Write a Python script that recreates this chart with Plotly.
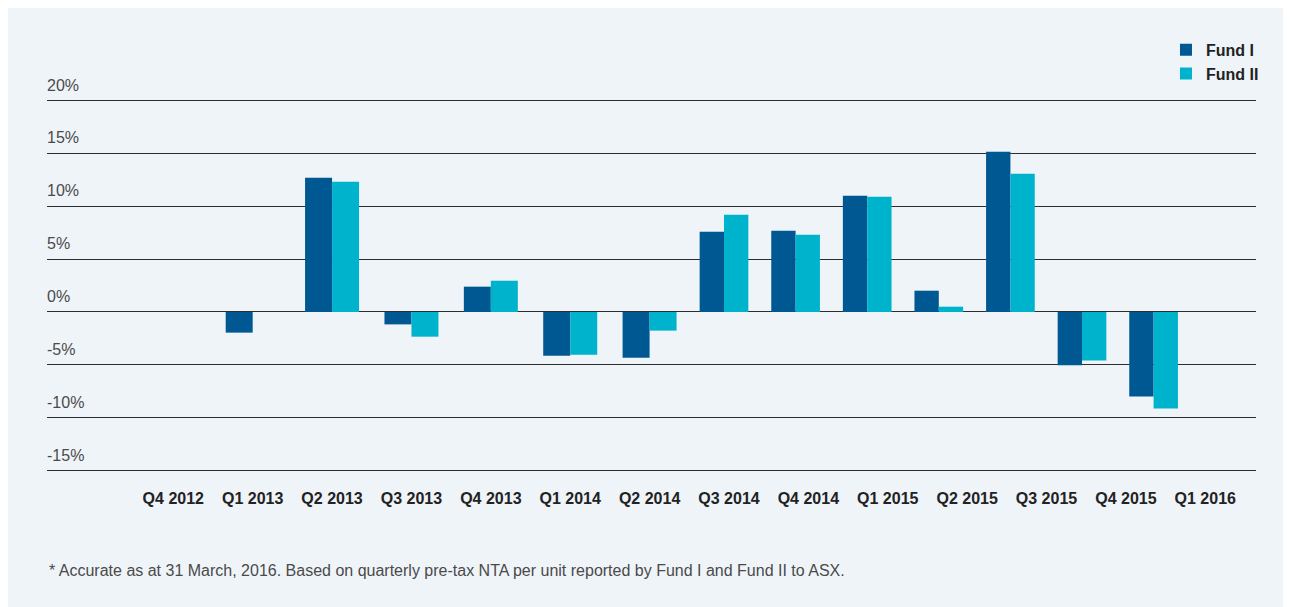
import plotly.graph_objects as go

# ---------------- data ----------------
quarters = ["Q4 2012", "Q1 2013", "Q2 2013", "Q3 2013", "Q4 2013", "Q1 2014", "Q2 2014",
            "Q3 2014", "Q4 2014", "Q1 2015", "Q2 2015", "Q3 2015", "Q4 2015", "Q1 2016"]
fund_1 = [None, -1.95, 12.67, -1.17, 2.39, -4.12, -4.31,
          7.58, 7.67, 10.97, 2.01, 15.12, -5.03, -7.99]
fund_2 = [None, None, 12.29, -2.33, 2.95, -4.03, -1.76,
          9.18, 7.29, 10.88, 0.50, 13.05, -4.59, -9.12]
series_names = ["Fund I", "Fund II"]
y_tick_values = [-15, -10, -5, 0, 5, 10, 15, 20]
y_tick_labels = ["-15%", "-10%", "-5%", "0%", "5%", "10%", "15%", "20%"]
footnote = ("* Accurate as at 31 March, 2016. Based on quarterly pre-tax NTA per unit "
            "reported by Fund I and Fund II to ASX.")

# ---------------- style ----------------
colors = ["#005893", "#00b3cc"]
panel = "#eff4f9"
font_family = "Liberation Sans, Arial, Helvetica, sans-serif"
# the page body keeps its default 8px margin, which gives the white strip at top/left
W, H = 1283, 599
L, R, T, B = 39, 35, 90, 134
split = 7  # the original graphic draws the later quarters on a tighter spacing

fig = go.Figure()
for name, vals, col in zip(series_names, [fund_1, fund_2], colors):
    first = vals[:split] + [None] * (len(vals) - split)
    fig.add_trace(go.Bar(name=name, x=quarters, y=first, marker=dict(color=col, line=dict(width=0)),
                         xaxis="x", yaxis="y", legendgroup=name))
for name, vals, col in zip(series_names, [fund_1, fund_2], colors):
    fig.add_trace(go.Bar(name=name, x=quarters[split:], y=vals[split:],
                         marker=dict(color=col, line=dict(width=0)),
                         xaxis="x2", yaxis="y", legendgroup=name, showlegend=False))

plot_w = W - L - R
plot_h = H - T - B

fig.update_layout(
    width=W, height=H,
    margin=dict(l=L, r=R, t=T, b=B, pad=0),
    paper_bgcolor=panel,
    plot_bgcolor=panel,
    barmode="group", bargap=0.32, bargroupgap=0,
    font=dict(family=font_family, size=16, color="#4a4a4a"),
    showlegend=True,
    legend=dict(x=1.0066, xanchor="right", y=1.174, yanchor="top",
                bgcolor="rgba(0,0,0,0)", borderwidth=0,
                font=dict(family=font_family, size=16, color="#222222", weight="bold"),
                tracegroupgap=0, itemwidth=30),
    xaxis=dict(type="category", categoryorder="array", categoryarray=quarters,
               range=[-1.591, 13.639], showgrid=False, zeroline=False, showline=False,
               ticks="", ticklabelstandoff=14,
               tickfont=dict(family=font_family, size=16, color="#222222", weight="bold")),
    xaxis2=dict(type="category", overlaying="x", range=[-9.455, 7.43], visible=False),
    yaxis=dict(range=[-15.2, 20.2], tickvals=y_tick_values, ticktext=y_tick_labels,
               showgrid=True, gridcolor="#2e2e2e", gridwidth=1,
               zeroline=True, zerolinecolor="#2e2e2e", zerolinewidth=1,
               showline=False, ticks="",
               ticklabelposition="inside top", ticklabeloverflow="allow",
               ticklabelstandoff=-3, ticklabelshift=-4,
               tickfont=dict(family=font_family, size=16, color="#4a4a4a")),
    annotations=[dict(text=footnote, xref="paper", yref="paper", x=0,
                      y=-(562 - (H - B)) / plot_h,
                      xanchor="left", yanchor="middle", showarrow=False,
                      font=dict(family=font_family, size=16, color="#4a4a4a"))],
)

fig.write_html("out.html")
